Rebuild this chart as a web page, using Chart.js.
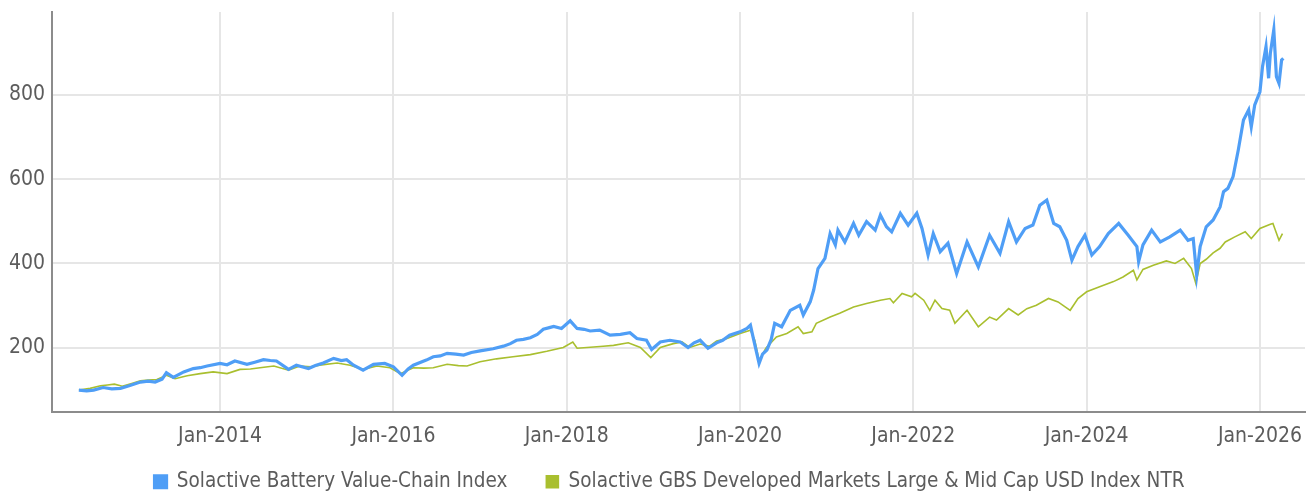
<!DOCTYPE html>
<html>
<head>
<meta charset="utf-8">
<script src="https://cdn.jsdelivr.net/npm/chart.js@4.4.1/dist/chart.umd.min.js"></script>
<style>
  html, body { margin: 0; padding: 0; background: #fff; }
  #wrap { width: 1314px; height: 496px; position: relative; }
</style>
</head>
<body>
<div id="wrap"><canvas id="myChart"></canvas></div>
<script>
// Index levels (dates as decimal years)
const batteryDates = [2012.37, 2012.46, 2012.54, 2012.65, 2012.75, 2012.85, 2012.95, 2013.08, 2013.17, 2013.25, 2013.33, 2013.38, 2013.46, 2013.58, 2013.69, 2013.77, 2013.85, 2014.0, 2014.08, 2014.17, 2014.31, 2014.4, 2014.5, 2014.58, 2014.65, 2014.79, 2014.88, 2015.02, 2015.1, 2015.19, 2015.31, 2015.4, 2015.46, 2015.54, 2015.65, 2015.77, 2015.9, 2016.0, 2016.1, 2016.17, 2016.23, 2016.38, 2016.46, 2016.54, 2016.62, 2016.72, 2016.81, 2016.9, 2017.0, 2017.15, 2017.27, 2017.35, 2017.42, 2017.5, 2017.58, 2017.66, 2017.73, 2017.8, 2017.85, 2017.94, 2018.04, 2018.12, 2018.2, 2018.27, 2018.38, 2018.5, 2018.62, 2018.73, 2018.81, 2018.92, 2018.98, 2019.08, 2019.19, 2019.31, 2019.4, 2019.47, 2019.54, 2019.63, 2019.73, 2019.8, 2019.88, 2020.0, 2020.08, 2020.12, 2020.15, 2020.22, 2020.26, 2020.31, 2020.36, 2020.4, 2020.48, 2020.58, 2020.69, 2020.73, 2020.81, 2020.85, 2020.9, 2020.98, 2021.04, 2021.1, 2021.13, 2021.21, 2021.31, 2021.37, 2021.46, 2021.56, 2021.62, 2021.69, 2021.75, 2021.85, 2021.94, 2022.04, 2022.1, 2022.17, 2022.23, 2022.31, 2022.4, 2022.5, 2022.62, 2022.75, 2022.88, 2023.0, 2023.1, 2023.19, 2023.29, 2023.38, 2023.46, 2023.54, 2023.62, 2023.69, 2023.77, 2023.83, 2023.9, 2023.98, 2024.06, 2024.15, 2024.25, 2024.37, 2024.48, 2024.58, 2024.6, 2024.65, 2024.75, 2024.85, 2024.96, 2025.08, 2025.17, 2025.23, 2025.27, 2025.31, 2025.38, 2025.46, 2025.54, 2025.58, 2025.63, 2025.69, 2025.75, 2025.81, 2025.87, 2025.9, 2025.94, 2026.0, 2026.03, 2026.07, 2026.1, 2026.12, 2026.16, 2026.19, 2026.22, 2026.25, 2026.27];
const batteryValues = [100, 98, 100, 106, 103, 104, 110, 119, 121, 119, 126, 141, 130, 143, 151, 153, 157, 163, 160, 169, 161, 166, 172, 170, 169, 149, 159, 151, 158, 164, 175, 170, 172, 159, 147, 161, 163, 155, 135, 150, 159, 171, 179, 181, 187, 185, 183, 189, 193, 198, 204, 210, 218, 220, 224, 232, 244, 248, 251, 246, 264, 246, 244, 240, 242, 230, 232, 236, 222, 218, 196, 214, 218, 214, 201, 212, 218, 199, 212, 218, 230, 238, 246, 254, 226, 163, 185, 195, 220, 258, 250, 289, 301, 278, 309, 337, 388, 412, 471, 444, 479, 451, 495, 467, 499, 479, 515, 487, 475, 519, 491, 519, 483, 420, 471, 428, 448, 376, 451, 392, 467, 424, 499, 451, 483, 491, 538, 550, 495, 487, 455, 408, 440, 467, 420, 440, 471, 495, 467, 440, 404, 444, 479, 451, 463, 479, 455, 459, 372, 440, 487, 503, 534, 570, 578, 606, 669, 740, 764, 724, 776, 807, 867, 914, 839, 898, 954, 843, 827, 882, 886];

const gbsDates = [2012.37, 2012.5, 2012.62, 2012.7, 2012.78, 2012.87, 2012.97, 2013.08, 2013.17, 2013.27, 2013.38, 2013.48, 2013.62, 2013.77, 2013.92, 2014.08, 2014.23, 2014.35, 2014.46, 2014.62, 2014.79, 2014.92, 2015.05, 2015.15, 2015.35, 2015.5, 2015.65, 2015.81, 2015.96, 2016.08, 2016.23, 2016.35, 2016.46, 2016.62, 2016.75, 2016.85, 2017.0, 2017.19, 2017.38, 2017.58, 2017.77, 2017.96, 2018.07, 2018.12, 2018.31, 2018.42, 2018.54, 2018.71, 2018.85, 2018.97, 2019.08, 2019.23, 2019.33, 2019.42, 2019.54, 2019.65, 2019.73, 2019.85, 2020.0, 2020.12, 2020.17, 2020.22, 2020.3, 2020.42, 2020.54, 2020.67, 2020.73, 2020.83, 2020.88, 2021.04, 2021.15, 2021.31, 2021.46, 2021.62, 2021.73, 2021.77, 2021.87, 2021.98, 2022.02, 2022.12, 2022.19, 2022.25, 2022.33, 2022.42, 2022.48, 2022.62, 2022.75, 2022.88, 2022.96, 2023.1, 2023.21, 2023.31, 2023.42, 2023.56, 2023.67, 2023.81, 2023.9, 2024.0, 2024.15, 2024.31, 2024.42, 2024.54, 2024.58, 2024.65, 2024.77, 2024.92, 2025.02, 2025.12, 2025.21, 2025.26, 2025.31, 2025.38, 2025.46, 2025.54, 2025.6, 2025.71, 2025.83, 2025.9, 2026.0, 2026.12, 2026.15, 2026.22, 2026.26];
const gbsValues = [100, 104, 110, 112, 114, 109, 115, 122, 124, 125, 135, 127, 134, 139, 143, 139, 149, 150, 153, 157, 147, 157, 155, 159, 164, 159, 149, 157, 153, 139, 153, 152, 153, 161, 158, 157, 167, 174, 179, 184, 192, 201, 214, 199, 202, 204, 206, 212, 201, 177, 201, 210, 214, 201, 209, 204, 216, 222, 234, 242, 218, 170, 200, 226, 234, 250, 234, 238, 258, 273, 282, 297, 305, 313, 317, 307, 329, 321, 329, 313, 289, 313, 293, 289, 258, 289, 250, 273, 266, 293, 278, 293, 301, 317, 309, 289, 317, 333, 345, 357, 368, 384, 361, 386, 396, 406, 400, 412, 388, 353, 400, 410, 425, 436, 451, 463, 475, 459, 483, 493, 495, 455, 471];

const seriesNames = ["Solactive Battery Value-Chain Index", "Solactive GBS Developed Markets Large & Mid Cap USD Index NTR"];
const yTicks = [200, 400, 600, 800];
const xTickYears = [2014, 2016, 2018, 2020, 2022, 2024, 2026];

const FONT = "'Liberation Sans Narrow', 'DejaVu Sans Condensed', Roboto, sans-serif";
const TEXT = "#5c5c5c";

const toPoints = (dates, values) => dates.map((d, i) => ({ x: d, y: values[i] }));

// legend: short box, wide gaps between items, drawn a bit higher and to the right
const legendTweak = {
    id: "legendTweak",
    afterInit(chart) {
        const legend = chart.legend;
        const fit = legend.fit;
        const draw = legend.draw;
        legend.fit = function () {
            fit.call(this);
            this.height = 34;
        };
        legend.draw = function () {
            const top = this.top, left = this.left, right = this.right;
            this.top = top - 29.5;
            this.left = left + 17;
            this.right = right + 17;
            draw.call(this);
            this.top = top; this.left = left; this.right = right;
        };
    }
};

const data = {
    datasets: [{
        label: seriesNames[0],
        data: toPoints(batteryDates, batteryValues),
        borderColor: "#4f9ef6",
        backgroundColor: "#4f9ef6",
        borderWidth: 3.2,
        pointRadius: 0,
        order: 1
    }, {
        label: seriesNames[1],
        data: toPoints(gbsDates, gbsValues),
        borderColor: "#a9bf2f",
        backgroundColor: "#a9bf2f",
        borderWidth: 1.6,
        pointRadius: 0,
        order: 2
    }]
};

const config = {
    type: "line",
    data: data,
    plugins: [legendTweak],
    options: {
        responsive: false,
        animation: false,
        layout: { padding: { top: 12, right: 9, left: 0, bottom: 0 } },
        plugins: {
            tooltip: { enabled: false },
            legend: {
                position: "bottom",
                labels: {
                    boxWidth: 12,
                    boxHeight: 12,
                    padding: 39,
                    color: TEXT,
                    font: { family: FONT, size: 20.5 }
                }
            }
        },
        scales: {
            x: {
                type: "linear",
                min: 2012.06,
                max: 2026.52,
                afterBuildTicks: (scale) => {
                    scale.ticks = xTickYears.map(v => ({ value: v }));
                },
                afterFit: (scale) => {
                    scale.height = 50;
                    scale.paddingLeft = 0;
                    scale.paddingRight = 0;
                },
                ticks: {
                    color: TEXT,
                    padding: 12,
                    maxRotation: 0,
                    font: { family: FONT, size: 21 },
                    callback: (v) => "Jan-" + v
                },
                grid: { color: "#e6e6e6", lineWidth: 2, drawTicks: false },
                border: { color: "#8c8c8c", width: 2 }
            },
            y: {
                min: 48,
                max: 996,
                afterBuildTicks: (scale) => {
                    scale.ticks = yTicks.map(v => ({ value: v }));
                },
                afterFit: (scale) => {
                    scale.width = 52;
                    scale.paddingTop = 0;
                    scale.paddingBottom = 0;
                },
                ticks: {
                    color: TEXT,
                    padding: 7,
                    font: { family: FONT, size: 21 }
                },
                grid: { color: "#e6e6e6", lineWidth: 2, drawTicks: false },
                border: { color: "#8c8c8c", width: 2 }
            }
        }
    }
};

const canvas = document.getElementById("myChart");
canvas.width = 1314;
canvas.height = 496;
const myChart = new Chart(canvas, config);
</script>
</body>
</html>
